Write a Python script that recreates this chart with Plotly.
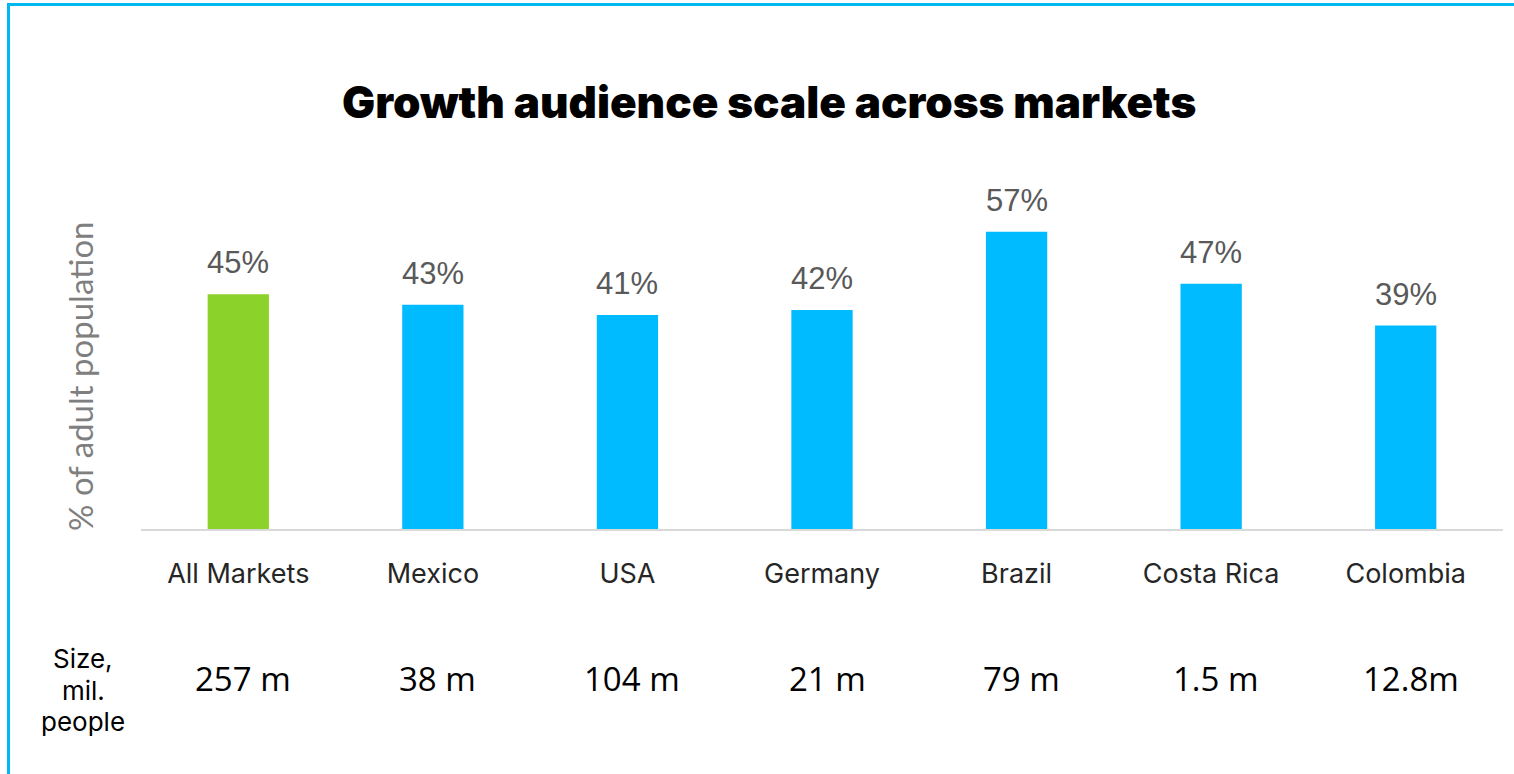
import plotly.graph_objects as go

# Chart data
markets = ["All Markets", "Mexico", "USA", "Germany", "Brazil", "Costa Rica", "Colombia"]
share_pct = [45, 43, 41, 42, 57, 47, 39]
size_labels = ["257 m", "38 m", "104 m", "21 m", "79 m", "1.5 m", "12.8m"]
size_caption = ["Size,", "mil.", "people"]
highlight = "All Markets"

W, H = 1514, 774
L, R, T, B = 141, 11, 216, 245
plot_w = W - L - R
plot_h = H - T - B


def px_x(p):
    return (p - L) / plot_w


def px_y(p):
    return (H - B - p) / plot_h


GREEN = "#8BD22A"
BLUE = "#00BBFF"
FRAME = "#00B8F0"

colors = [GREEN if m == highlight else BLUE for m in markets]

fig = go.Figure(
    go.Bar(
        x=markets,
        y=share_pct,
        marker=dict(color=colors, line=dict(width=0)),
        width=0.315,
        hoverinfo="skip",
    )
)

annotations = []
# percentage labels above bars
for m, v in zip(markets, share_pct):
    annotations.append(dict(
        x=m, y=v, xref="x", yref="y", text=f"{v}%", showarrow=False,
        yanchor="bottom", yshift=12,
        font=dict(family="Liberation Sans, Arial", size=31, color="#595959"),
    ))

# size row
for m, s in zip(markets, size_labels):
    annotations.append(dict(
        x=m, y=px_y(678), xref="x", yref="paper", text=s, showarrow=False,
        yanchor="middle", xshift=5,
        font=dict(family="Open Sans", size=33, color="#000000"),
    ))

for line, ypx in zip(size_caption, [658, 690, 721]):
    annotations.append(dict(
        x=px_x(83), y=px_y(ypx), xref="paper", yref="paper",
        text=line, showarrow=False,
        xanchor="center", yanchor="middle",
        font=dict(family="Inter", size=26, color="#000000"),
    ))

# y axis title
annotations.append(dict(
    x=px_x(80), y=px_y(376), xref="paper", yref="paper",
    text="% of adult population", showarrow=False, textangle=-90,
    xanchor="center", yanchor="middle",
    font=dict(family="Lato", size=33, color="#7F7F7F"),
))

# chart title
annotations.append(dict(
    x=px_x(769), y=px_y(102), xref="paper", yref="paper",
    text="Growth audience scale across markets", showarrow=False,
    xanchor="center", yanchor="middle",
    font=dict(family="Inter", size=44, color="#000000", weight=900),
))

shapes = [
    dict(type="line", xref="paper", yref="paper",
         x0=px_x(7.5), x1=px_x(W + 5), y0=px_y(4.5), y1=px_y(4.5),
         line=dict(color=FRAME, width=3)),
    dict(type="line", xref="paper", yref="paper",
         x0=px_x(8.5), x1=px_x(8.5), y0=px_y(3), y1=px_y(H + 5),
         line=dict(color=FRAME, width=3)),
]

fig.update_layout(
    width=W, height=H,
    margin=dict(l=L, r=R, t=T, b=B, pad=0),
    paper_bgcolor="white", plot_bgcolor="white",
    showlegend=False,
    bargap=0.685,
    annotations=annotations,
    shapes=shapes,
    xaxis=dict(
        showline=True, linecolor="#D9D9D9", linewidth=2,
        ticks="", showgrid=False, zeroline=False,
        tickfont=dict(family="Inter", size=27, color="#262626"),
        ticklabelstandoff=20,
    ),
    yaxis=dict(
        range=[0, 60], visible=False, showgrid=False, zeroline=False,
    ),
)

fig.write_html("out.html")
